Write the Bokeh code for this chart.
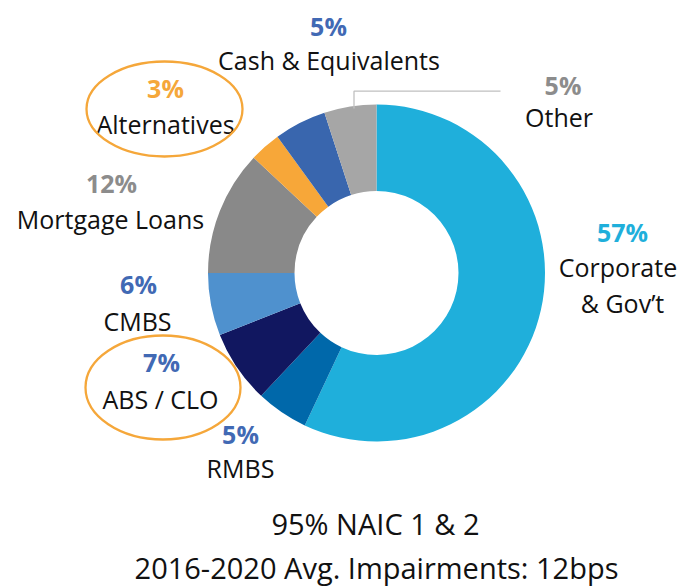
import math
from bokeh.plotting import figure
from bokeh.models import Range1d, ColumnDataSource
from bokeh.core.properties import value
from bokeh.embed import file_html
from bokeh.resources import INLINE

# ---- data ----
categories = ["Corporate & Gov't", "RMBS", "ABS / CLO", "CMBS", "Mortgage Loans",
              "Alternatives", "Cash & Equivalents", "Other"]
label_lines = [["Corporate", "& Gov\u2019t"], ["RMBS"], ["ABS / CLO"], ["CMBS"],
               ["Mortgage Loans"], ["Alternatives"], ["Cash & Equivalents"], ["Other"]]
shares = [57, 5, 7, 6, 12, 3, 5, 5]
highlighted = [False, False, True, False, False, True, False, False]
footnotes = ["95% NAIC 1 & 2", "2016-2020 Avg. Impairments: 12bps"]

# ---- style / layout ----
slice_colors = ["#1FAFDB", "#0068AA", "#111760", "#4F91CE", "#898989",
                "#F7A739", "#3966AE", "#A6A6A6"]
pct_colors = ["#1FAFDB", "#4169B4", "#4169B4", "#4169B4", "#8C8C8C",
              "#F5A73A", "#4169B4", "#8C8C8C"]
# positions in image pixels (x, y of text centre)
pct_pos = [(622, 231.5), (240, 433), (161, 361), (138, 283), (111, 182.5),
           (165, 87), (328, 25.5), (562.5, 84.5)]
name_pos = [[(617.5, 266.5), (622, 302)], [(240, 467.5)], [(160, 398)], [(137, 320)],
            [(110, 218.5)], [(165, 123.5)], [(328.5, 59)], [(558.5, 116.5)]]
ellipse_geom = {2: (162.5, 387, 155, 104), 5: (164, 108.5, 156, 95)}
foot_pos = [(375, 523), (376, 567)]

W, H = 681, 586
FONT = "Open Sans"

def fy(y):
    return H - y

p = figure(width=W, height=H, output_backend="svg", toolbar_location=None,
           x_range=Range1d(0, W), y_range=Range1d(0, H),
           min_border=0, outline_line_color=None)
p.axis.visible = False
p.grid.visible = False
p.background_fill_color = "white"
p.border_fill_color = "white"

# donut
cx, cy, r_out, r_in = 376, 272.5, 168.5, 82
total = float(sum(shares))
starts, ends = [], []
cum = 0.0
for s in shares:
    starts.append(math.pi / 2 - 2 * math.pi * (cum + s) / total)
    ends.append(math.pi / 2 - 2 * math.pi * cum / total)
    cum += s
src = ColumnDataSource(dict(start=starts, end=ends, color=slice_colors,
                            x=[cx] * len(shares), y=[fy(cy)] * len(shares)))
p.annular_wedge(x="x", y="y", inner_radius=r_in, outer_radius=r_out,
                start_angle="start", end_angle="end", color="color",
                line_color=None, source=src)

# leader line for "Other"
p.line(x=[353.5, 353.5, 500], y=[fy(108), fy(90.7), fy(90.7)],
       line_color="#C0C0C0", line_width=1.3)

# labels
for i, cat in enumerate(categories):
    px, py = pct_pos[i]
    p.text(x=[px], y=[fy(py)], text=[f"{shares[i]}%"], text_color=pct_colors[i],
           text_font=value(FONT), text_font_style="bold", text_font_size="25px",
           text_align="center", text_baseline="middle")
    for j, line in enumerate(label_lines[i]):
        nx, ny = name_pos[i][j]
        p.text(x=[nx], y=[fy(ny)], text=[line], text_color="#111111",
               text_font=value(FONT), text_font_size="25px",
               text_align="center", text_baseline="middle")
    if highlighted[i]:
        ex, ey, ew, eh = ellipse_geom[i]
        p.ellipse(x=[ex], y=[fy(ey)], width=ew, height=eh,
                  fill_color=None, line_color="#F5A73A", line_width=2.3)

# footnotes
for k, t in enumerate(footnotes):
    fx, fyy = foot_pos[k]
    p.text(x=[fx], y=[fy(fyy)], text=[t], text_color="#111111",
           text_font=value(FONT), text_font_size="29px",
           text_align="center", text_baseline="middle")

open("out.html", "w").write(file_html(p, INLINE))
